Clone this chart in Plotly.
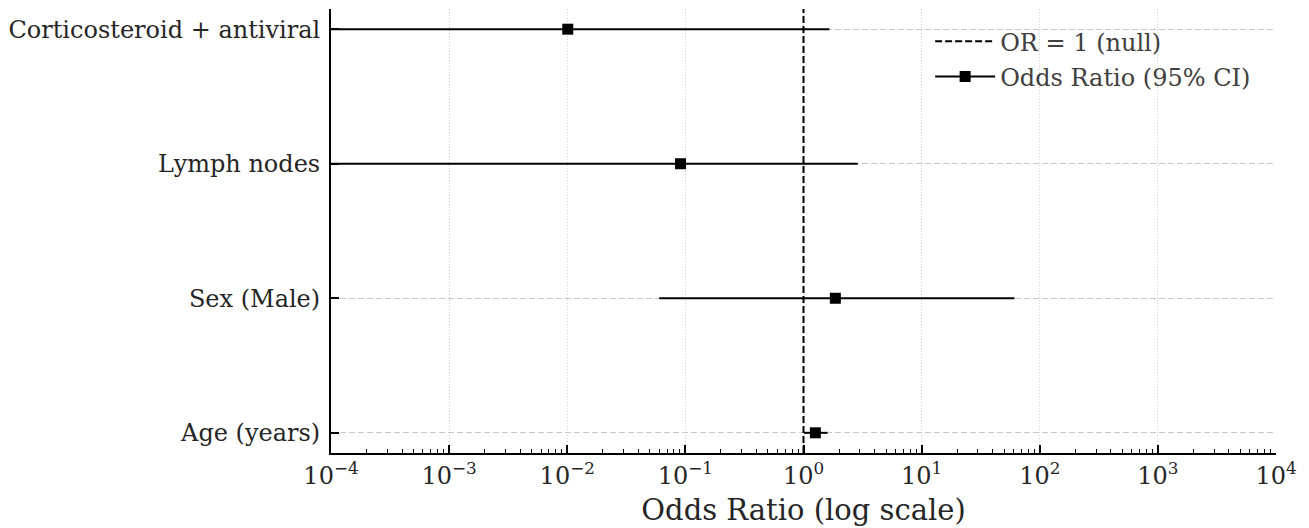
import plotly.graph_objects as go

categories = ["Age (years)", "Sex (Male)", "Lymph nodes", "Corticosteroid + antiviral"]
odds_ratio = [1.26, 1.86, 0.091, 0.0101]
ci_lower = [1.01, 0.060, 2e-5, 3e-6]
ci_upper = [1.60, 61.0, 2.88, 1.66]
x_exponents = [-4, -3, -2, -1, 0, 1, 2, 3, 4]
x_tickvals = [10.0 ** e for e in x_exponents]
x_ticktext = ["10<sup>%s</sup>" % (("\u2212%d" % -e) if e < 0 else str(e)) for e in x_exponents]
minor_vals = [k * 10.0 ** e for e in x_exponents[:-1] for k in range(2, 10)]

ypos = list(range(len(categories)))
FONT = "DejaVu Serif"

fig = go.Figure()

# null line
fig.add_trace(go.Scatter(
    x=[1, 1], y=[-0.15, len(categories) - 1 + 0.15], mode="lines",
    line=dict(color="black", width=2, dash="7px,3px"),
    name="OR = 1 (null)", legendgroup="a",
))

# odds ratios with CIs
fig.add_trace(go.Scatter(
    x=odds_ratio, y=ypos, mode="markers",
    marker=dict(symbol="square", size=11, color="black"),
    error_x=dict(type="data", symmetric=False,
                 array=[u - o for u, o in zip(ci_upper, odds_ratio)],
                 arrayminus=[o - l for o, l in zip(odds_ratio, ci_lower)],
                 color="black", thickness=2, width=0),
    showlegend=False, legendgroup="b",
))
# legend entry
fig.add_trace(go.Scatter(
    x=[None], y=[None], mode="lines+markers",
    marker=dict(symbol="square", size=11, color="black"),
    line=dict(color="black", width=2),
    name="Odds Ratio (95% CI)", legendgroup="b",
))

# page body has an 8px margin: size the figure so the plot lands where the reference has it
fig.update_layout(
    width=1301, height=520,
    margin=dict(l=323, r=33, t=1, b=75, autoexpand=False),
    plot_bgcolor="white", paper_bgcolor="white",
    font=dict(family=FONT, color="#262626"),
    showlegend=True,
    legend=dict(x=0.634, y=0.977, xanchor="left", yanchor="top",
                bgcolor="rgba(0,0,0,0)", font=dict(size=24, color="#404040"),
                itemwidth=60, tracegroupgap=1, traceorder="grouped"),
    xaxis=dict(
        type="log", range=[-4, 4], tickmode="array",
        tickvals=x_tickvals, ticktext=x_ticktext,
        showline=True, linecolor="black", linewidth=2,
        ticks="inside", ticklen=8, tickwidth=1.6, tickcolor="black",
        tickfont=dict(size=24, color="#262626"),
        showgrid=True, gridcolor="#cfcfcf", gridwidth=1, griddash="1px,2px",
        zeroline=False,
        minor=dict(tickmode="array", tickvals=minor_vals, ticks="inside",
                   ticklen=4, tickwidth=1.4, tickcolor="black", showgrid=False),
        title=dict(text="Odds Ratio (log scale)", font=dict(size=29, color="#262626"), standoff=11),
    ),
    yaxis=dict(
        range=[-0.15, len(categories) - 1 + 0.15],
        tickvals=ypos, ticktext=categories,
        showline=True, linecolor="black", linewidth=2,
        ticks="inside", ticklen=8, tickwidth=1.6, tickcolor="black",
        tickfont=dict(size=24, color="#262626"),
        ticklabelstandoff=4,
        showgrid=True, gridcolor="#c8c8c8", gridwidth=1.2, griddash="6px,3px",
        zeroline=False,
    ),
)

fig.write_html("out.html")
